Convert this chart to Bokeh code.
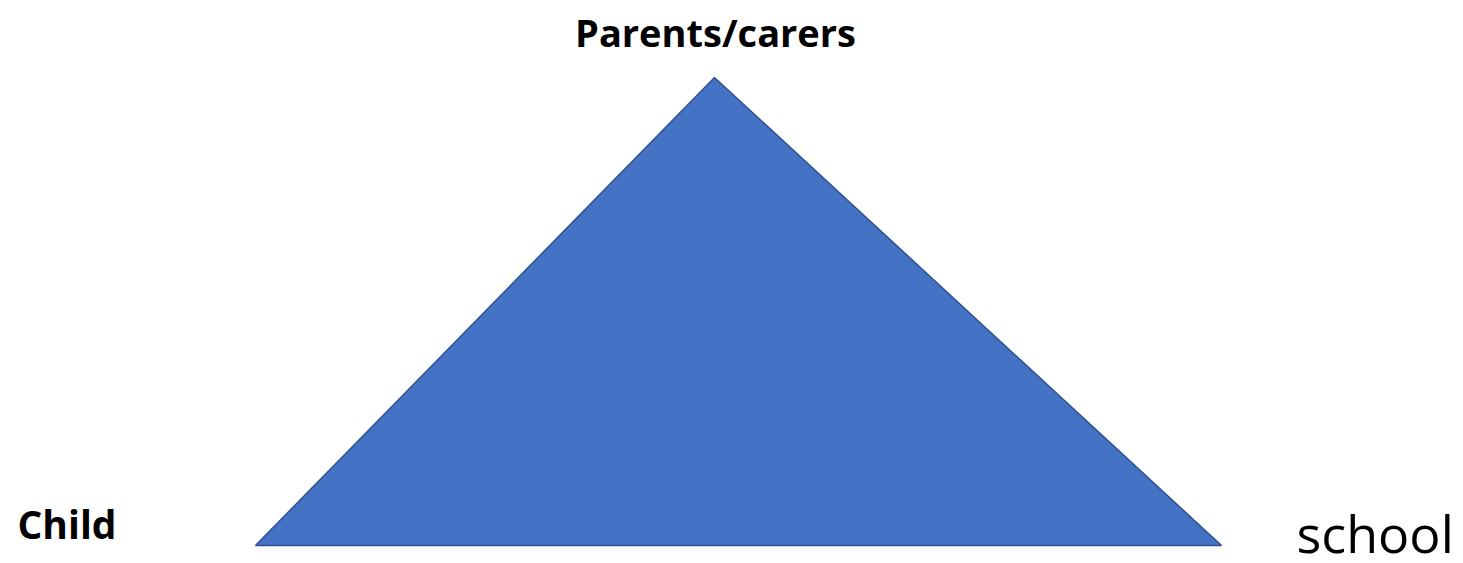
from bokeh.plotting import figure
from bokeh.models import Range1d
from bokeh.core.properties import value
from bokeh.embed import file_html
from bokeh.resources import INLINE

# Diagram data (picture coordinates)
tri_x = [714, 255, 1221]
tri_y = [77, 545, 545]

labels = ["Parents/carers", "Child", "school"]
label_x = [715, 17, 1296]
label_y = [31, 523, 532]

W, H = 1455, 555
p = figure(width=W, height=H, output_backend="svg", toolbar_location=None,
           x_range=Range1d(0, W), y_range=Range1d(H, 0),
           min_border=0, outline_line_color=None)
p.xaxis.visible = False
p.yaxis.visible = False
p.grid.visible = False
p.background_fill_color = "white"
p.border_fill_color = "white"

p.patch(tri_x, tri_y, fill_color="#4472C4", line_color="#2F528F", line_width=1.5)

p.text(x=[label_x[0]], y=[label_y[0]], text=[labels[0]], text_font=value("Open Sans"),
       text_font_style="bold", text_font_size="38px", text_align="center",
       text_baseline="alphabetic", text_color="black")
p.text(x=[label_x[1]], y=[label_y[1]], text=[labels[1]], text_font=value("Open Sans"),
       text_font_style="bold", text_font_size="39px", text_align="left",
       text_baseline="alphabetic", text_color="black")
p.text(x=[label_x[2]], y=[label_y[2]], text=[labels[2]], text_font=value("Open Sans"),
       text_font_style="normal", text_font_size="52px", text_align="left",
       text_baseline="alphabetic", text_color="black")

open("out.html", "w").write(file_html(p, INLINE))
